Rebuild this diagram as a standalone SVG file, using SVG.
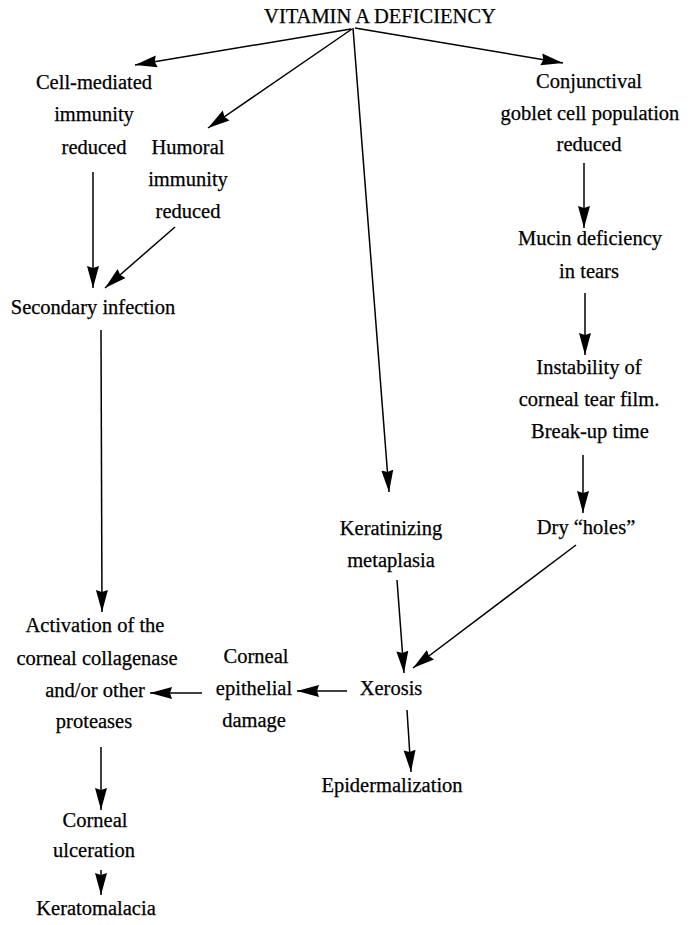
<svg xmlns="http://www.w3.org/2000/svg" width="690" height="925" viewBox="0 0 690 925" font-family="'Liberation Serif', 'Times New Roman', 'DejaVu Serif', serif">
  <style>
    text { font-family: "Liberation Serif", "Times New Roman", "DejaVu Serif", serif; font-size: 20.5px; fill: #000; stroke: #000; stroke-width: 0.25; text-anchor: middle; }
    .edge { stroke: #000; stroke-width: 1.5; fill: none; marker-end: url(#head); }
  </style>
  <defs>
    <!-- solid slim arrowhead, tip at the end of each connector -->
    <marker id="head" markerUnits="userSpaceOnUse" markerWidth="23" markerHeight="13" refX="22" refY="6.5" orient="auto">
      <path d="M0,0.5 L22,6.5 L0,12.5 L2,6.5 z" fill="#000"/>
    </marker>
  </defs>
  <rect width="690" height="925" fill="#fff"/>

  <g id="vad"><text x="380" y="23">VITAMIN A DEFICIENCY</text></g>

  <g id="cell-mediated">
    <text x="94" y="89">Cell-mediated</text>
    <text x="94" y="121">immunity</text>
    <text x="94" y="154">reduced</text>
  </g>
  <g id="humoral">
    <text x="188" y="154">Humoral</text>
    <text x="188" y="186">immunity</text>
    <text x="188" y="218">reduced</text>
  </g>
  <g id="goblet">
    <text x="589" y="88">Conjunctival</text>
    <text x="590" y="120">goblet cell population</text>
    <text x="589" y="151">reduced</text>
  </g>
  <g id="mucin">
    <text x="590" y="245">Mucin deficiency</text>
    <text x="589" y="278">in tears</text>
  </g>
  <g id="instability">
    <text x="589" y="374">Instability of</text>
    <text x="589" y="406">corneal tear film.</text>
    <text x="590" y="438">Break-up time</text>
  </g>
  <g id="dry-holes"><text x="586" y="534">Dry “holes”</text></g>
  <g id="keratinizing">
    <text x="391" y="535">Keratinizing</text>
    <text x="391" y="567">metaplasia</text>
  </g>
  <g id="secondary"><text x="93" y="314">Secondary infection</text></g>
  <g id="activation">
    <text x="95" y="632">Activation of the</text>
    <text x="97" y="665">corneal collagenase</text>
    <text x="95" y="697">and/or other</text>
    <text x="94" y="728">proteases</text>
  </g>
  <g id="epithelial">
    <text x="256" y="663">Corneal</text>
    <text x="254" y="695">epithelial</text>
    <text x="254" y="727">damage</text>
  </g>
  <g id="xerosis"><text x="391" y="695">Xerosis</text></g>
  <g id="epidermalization"><text x="392" y="792">Epidermalization</text></g>
  <g id="ulceration">
    <text x="95" y="827">Corneal</text>
    <text x="94" y="857">ulceration</text>
  </g>
  <g id="keratomalacia"><text x="96" y="915">Keratomalacia</text></g>

  <g id="connectors">
    <line class="edge" x1="351" y1="29" x2="135" y2="65"/>
    <line class="edge" x1="352" y1="29" x2="208" y2="128"/>
    <line class="edge" x1="353" y1="28" x2="389" y2="492"/>
    <line class="edge" x1="355" y1="28" x2="563" y2="63"/>
    <line class="edge" x1="93" y1="172" x2="93" y2="288"/>
    <line class="edge" x1="175" y1="227" x2="105" y2="288"/>
    <line class="edge" x1="584" y1="163" x2="584" y2="228"/>
    <line class="edge" x1="585" y1="293" x2="585" y2="355"/>
    <line class="edge" x1="583" y1="455" x2="583" y2="513"/>
    <line class="edge" x1="576" y1="545" x2="413" y2="668"/>
    <line class="edge" x1="397" y1="580" x2="404" y2="673"/>
    <line class="edge" x1="101" y1="330" x2="102" y2="612"/>
    <line class="edge" x1="347" y1="691" x2="297" y2="691"/>
    <line class="edge" x1="202" y1="693" x2="150" y2="693"/>
    <line class="edge" x1="407" y1="710" x2="411" y2="772"/>
    <line class="edge" x1="101" y1="747" x2="101" y2="810"/>
    <line class="edge" x1="101" y1="870" x2="101" y2="895"/>
  </g>
</svg>
